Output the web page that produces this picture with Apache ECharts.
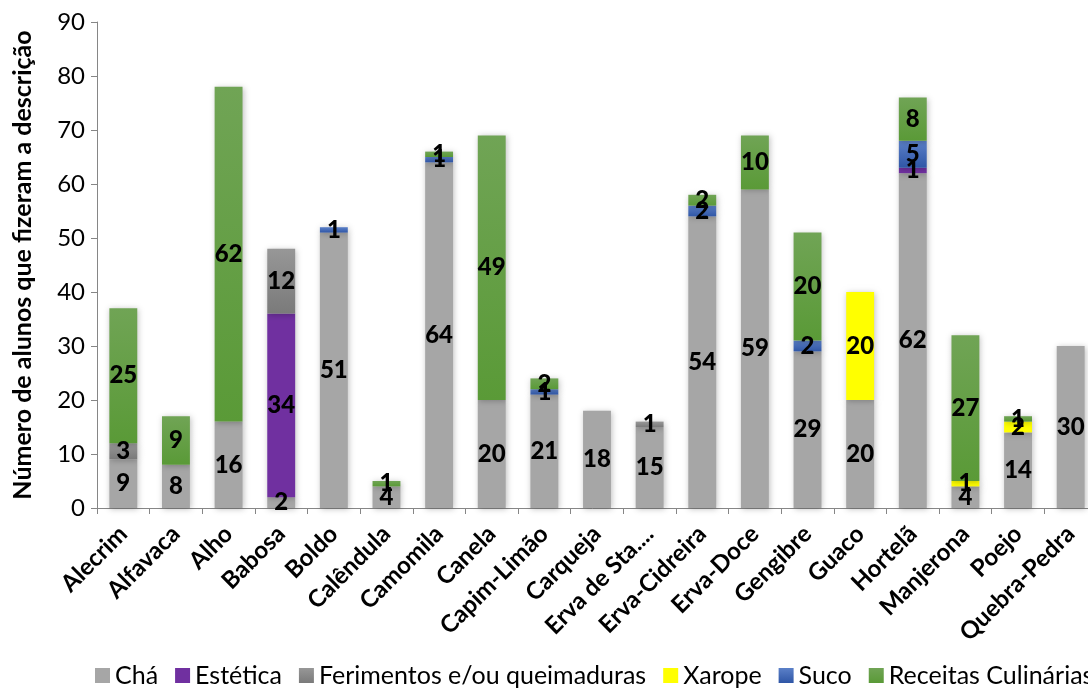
<!DOCTYPE html>
<html>
<head>
<meta charset="utf-8">
<script src="https://cdn.jsdelivr.net/npm/echarts@6/dist/echarts.min.js"></script>
<style>
  html, body { margin: 0; padding: 0; background: #fff; }
  #chart { width: 1088px; height: 693px; }
</style>
</head>
<body>
<div id="chart"></div>
<script>
const categories = ['Alecrim', 'Alfavaca', 'Alho', 'Babosa', 'Boldo', 'Calêndula', 'Camomila', 'Canela', 'Capim-Limão', 'Carqueja', 'Erva de Sta....', 'Erva-Cidreira', 'Erva-Doce', 'Gengibre', 'Guaco', 'Hortelã', 'Manjerona', 'Poejo', 'Quebra-Pedra']
const cha = [9, 8, 16, 2, 51, 4, 64, 20, 21, 18, 15, 54, 59, 29, 20, 62, 4, 14, 30]
const estetica = [null, null, null, 34, null, null, null, null, null, null, null, null, null, null, null, 1, null, null, null]
const ferimentos = [3, null, null, 12, null, null, null, null, null, null, 1, null, null, null, null, null, null, null, null]
const xarope = [null, null, null, null, null, null, null, null, null, null, null, null, null, null, 20, null, 1, 2, null]
const suco = [null, null, null, null, 1, null, 1, null, 1, null, null, 2, null, 2, null, 5, null, null, null]
const receitas = [25, 9, 62, null, null, 1, 1, 49, 2, null, null, 2, 10, 20, null, 8, 27, 1, null]
const yTicks = [0, 10, 20, 30, 40, 50, 60, 70, 80, 90]

const font = 'Lato'

function grad(top, bottom) {
  return new echarts.graphic.LinearGradient(0, 0, 0, 1, [
    { offset: 0, color: top },
    { offset: 1, color: bottom }
  ])
}

function makeSeries(name, data, color) {
  return {
    name: name,
    type: 'bar',
    stack: 'total',
    barWidth: '53%',
    data: data,
    itemStyle: {
      color: color,
      shadowColor: 'rgba(0,0,0,0.25)',
      shadowBlur: 6,
      shadowOffsetX: 1,
      shadowOffsetY: 1
    },
    label: {
      show: true,
      position: 'inside',
      color: '#000',
      fontFamily: font,
      fontWeight: 900,
      fontSize: 24
    }
  }
}

const chart = echarts.init(document.getElementById('chart'))
chart.setOption({
  animation: false,
  backgroundColor: '#fff',
  grid: {
    left: 97,
    top: 22,
    width: 1000,
    bottom: 185,
    outerBoundsMode: 'none'
  },
  legend: {
    left: 90,
    bottom: 0,
    width: 1400,
    itemWidth: 15,
    itemHeight: 15,
    itemGap: 17,
    icon: 'rect',
    textStyle: {
      fontFamily: font,
      fontSize: 25,
      color: '#000'
    },
    data: ['Chá', 'Estética', 'Ferimentos e/ou queimaduras', 'Xarope', 'Suco', 'Receitas Culinárias']
  },
  xAxis: {
    type: 'category',
    data: categories,
    axisLine: { lineStyle: { color: '#868686' } },
    axisTick: { show: true, length: 6, lineStyle: { color: '#868686' } },
    axisLabel: {
      rotate: 45,
      interval: 0,
      margin: 22,
      color: '#000',
      fontFamily: font,
      fontWeight: 'bold',
      fontSize: 24
    }
  },
  yAxis: {
    type: 'value',
    min: 0,
    max: 90,
    interval: 10,
    name: 'Número de alunos que fizeram a descrição',
    nameLocation: 'middle',
    nameGap: 62,
    nameTextStyle: {
      fontFamily: font,
      fontWeight: 'bold',
      fontSize: 25,
      color: '#000'
    },
    axisLine: { show: true, lineStyle: { color: '#868686' } },
    axisTick: { show: true, length: 6, lineStyle: { color: '#868686' } },
    splitLine: { show: false },
    axisLabel: {
      margin: 12,
      color: '#000',
      fontFamily: font,
      fontSize: 24,
      formatter: v => yTicks.includes(v) ? String(v) : ''
    }
  },
  series: [
    makeSeries('Chá', cha, '#a6a6a6'),
    makeSeries('Estética', estetica, '#7030a0'),
    makeSeries('Ferimentos e/ou queimaduras', ferimentos, grad('#979797', '#7a7a7a')),
    makeSeries('Xarope', xarope, '#ffff00'),
    makeSeries('Suco', suco, grad('#5b80c8', '#2f56a6')),
    makeSeries('Receitas Culinárias', receitas, grad('#70a455', '#5a9a37'))
  ]
})
</script>
</body>
</html>
